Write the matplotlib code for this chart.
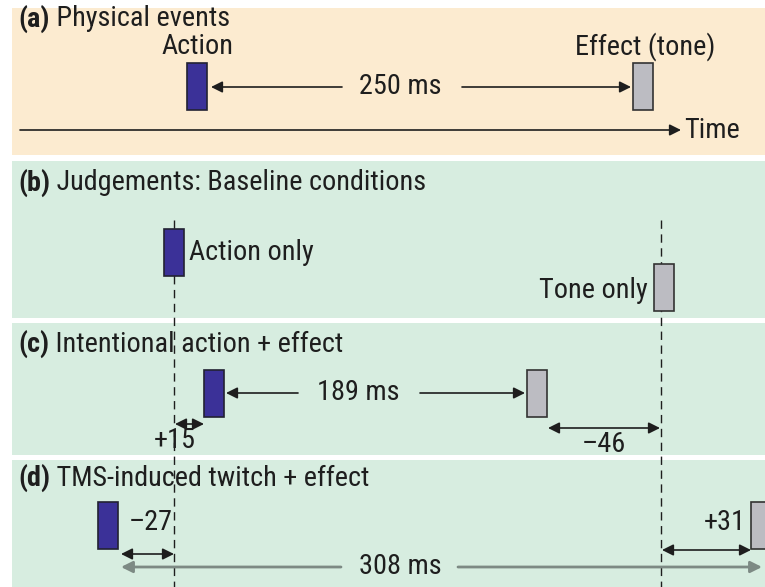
import matplotlib
matplotlib.use('Agg')
from matplotlib import pyplot as plt
from matplotlib.patches import Rectangle

# Panel layout (pixel space of the 765x587 picture)
panel_labels = ['(a)', '(b)', '(c)', '(d)']
panel_titles = [' Physical events', ' Judgements: Baseline conditions',
                ' Intentional action + effect', ' TMS-induced twitch + effect']
panel_top = [8, 161, 323, 460]
panel_bottom = [155, 318, 455, 590]
panel_colors = ['#fcebd0', '#d7ede0', '#d7ede0', '#d7ede0']
title_y = [19, 183, 344, 478]

# Event markers per panel: action bar centre, tone bar centre, bar tops
action_x = [197, 174, 214, 108]
action_top = [63, 229, 370, 502]
tone_x = [643, 664, 537, 761]
tone_top = [63, 264, 370, 502]
bar_w = 20
bar_h = 47

# Interval arrows: (start, end, y)
gap_arrows = [
    (342, 211, 87), (462, 631, 87),      # 250 ms
    (298, 226, 393), (420, 525, 393),    # 189 ms
]
gap_labels = [('250 ms', 400, 87), ('189 ms', 358, 393)]
shift_arrows = [(175, 204, 424), (548, 660, 428), (121, 174, 554), (662, 751, 550)]
shift_labels = [('+15', 175, 441, 'center'), ('\u201346', 604, 444, 'center'),
                ('\u201327', 129, 523, 'left'), ('+31', 746, 522, 'right')]

plt.rcParams['font.family'] = ['Roboto Condensed', 'Archivo Narrow', 'DejaVu Sans']

fig = plt.figure(figsize=(7.65, 5.87), dpi=100)
ax = fig.add_axes([0, 0, 1, 1])
ax.set_xlim(0, 765)
ax.set_ylim(587, 0)
ax.axis('off')

ink = '#1e1e1e'
fs = 20.3

for i in range(4):
    ax.add_patch(Rectangle((12, panel_top[i]), 760, panel_bottom[i] - panel_top[i],
                           facecolor=panel_colors[i], edgecolor='none', zorder=0))
    t = ax.text(18, title_y[i], panel_labels[i], fontsize=fs, fontweight='bold',
                color=ink, va='center', ha='left')
    ax.annotate(panel_titles[i], xy=(1, 0.5), xycoords=t, fontsize=fs,
                color=ink, va='center', ha='left')

    ax.add_patch(Rectangle((action_x[i] - bar_w / 2, action_top[i]), bar_w, bar_h,
                           facecolor='#3b3198', edgecolor='#222233', lw=1.2, zorder=3))
    ax.add_patch(Rectangle((tone_x[i] - bar_w / 2, tone_top[i]), bar_w, bar_h,
                           facecolor='#bcbcc2', edgecolor='#333333', lw=1.2, zorder=3))

# Baseline judgement reference lines
for x in (action_x[1], tone_x[1] - 3):
    ax.plot([x, x], [220, 587], color=ink, lw=1.0, dashes=(6, 4), zorder=2)

head = dict(color=ink, lw=1.2, shrinkA=0, shrinkB=0, mutation_scale=17)
for x0, x1, y in gap_arrows:
    ax.annotate('', xy=(x1, y), xytext=(x0, y), arrowprops=dict(arrowstyle='-|>', **head))
for txt, x, y in gap_labels:
    ax.text(x, y, txt, fontsize=fs, color=ink, ha='center', va='center')

for x0, x1, y in shift_arrows:
    ax.annotate('', xy=(x1, y), xytext=(x0, y),
                arrowprops=dict(arrowstyle='<|-|>', **head))
for txt, x, y, ha in shift_labels:
    ax.text(x, y, txt, fontsize=fs, color=ink, ha=ha, va='center')

# 308 ms interval in (d), grey line
grey = dict(color='#7d8a84', lw=2.0, shrinkA=0, shrinkB=0, mutation_scale=17)
ax.annotate('', xy=(121, 567), xytext=(341, 567), arrowprops=dict(arrowstyle='-|>', **grey))
ax.annotate('', xy=(762, 567), xytext=(458, 567), arrowprops=dict(arrowstyle='-|>', **grey))
ax.text(400, 566, '308 ms', fontsize=fs, color=ink, ha='center', va='center')

# (a) labels and time axis
ax.text(action_x[0], 47, 'Action', fontsize=fs, color=ink, ha='center', va='center')
ax.text(645, 47, 'Effect (tone)', fontsize=fs, color=ink, ha='center', va='center')
ax.annotate('', xy=(681, 130), xytext=(20, 130), arrowprops=dict(arrowstyle='-|>', **head))
ax.text(684, 131, 'Time', fontsize=fs, color=ink, ha='left', va='center')

# (b) labels
ax.text(189, 252, 'Action only', fontsize=fs, color=ink, ha='left', va='center')
ax.text(648, 290, 'Tone only', fontsize=fs, color=ink, ha='right', va='center')

fig.savefig('out.png', dpi=100)
